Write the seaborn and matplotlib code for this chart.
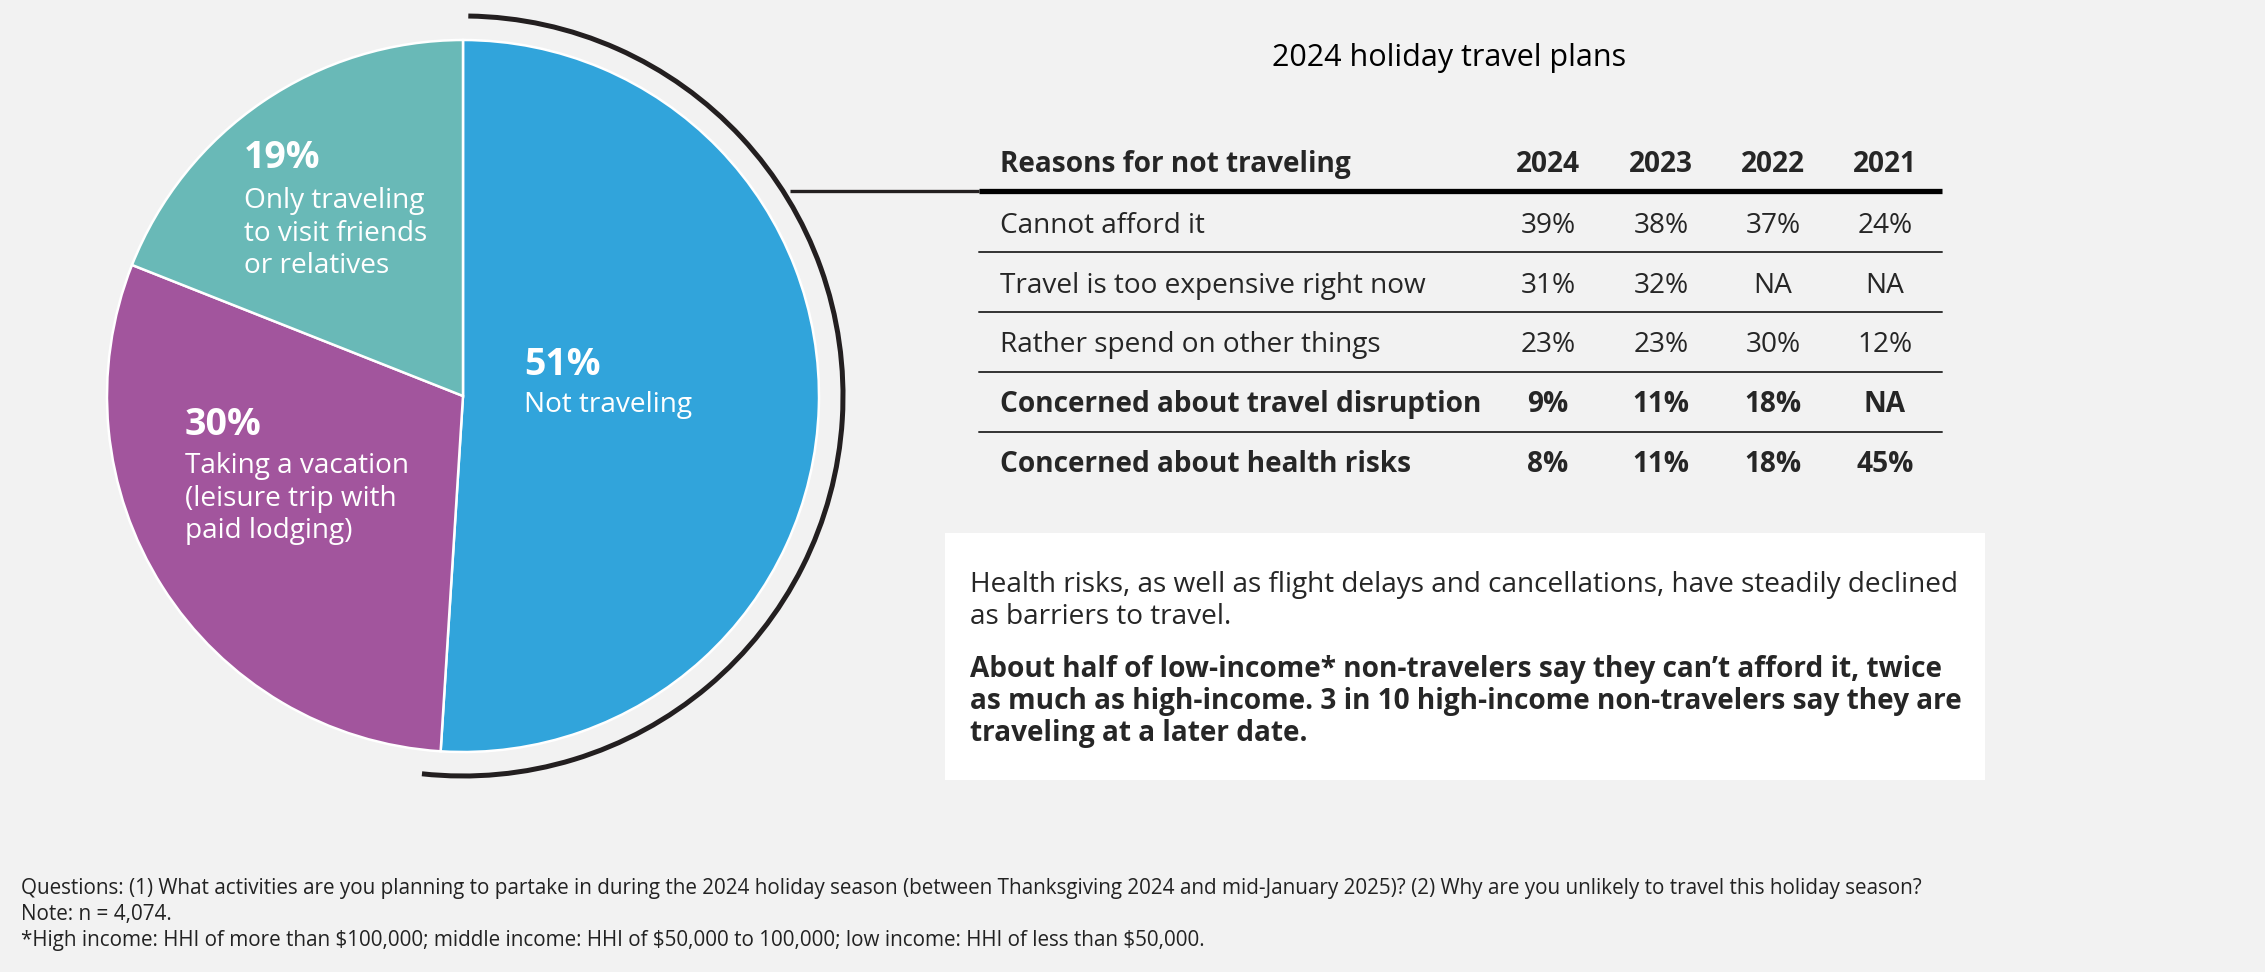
import matplotlib
matplotlib.use("Agg")
import matplotlib.pyplot as plt
from matplotlib.patches import Arc, Rectangle
import seaborn as sns

# ── Data ─────────────────────────────────────────────────────────────────────
plan_pcts   = [51, 30, 19]
plan_labels = [["Not traveling"],
               ["Taking a vacation", "(leisure trip with", "paid lodging)"],
               ["Only traveling", "to visit friends", "or relatives"]]

title = "2024 holiday travel plans"
years = ["2024", "2023", "2022", "2021"]
reasons = ["Cannot afford it",
           "Travel is too expensive right now",
           "Rather spend on other things",
           "Concerned about travel disruption",
           "Concerned about health risks"]
reason_bold = [False, False, False, True, True]
share_2024 = [39, 31, 23, 9, 8]
share_2023 = [38, 32, 23, 11, 11]
share_2022 = [37, None, 30, 18, 18]
share_2021 = [24, None, 12, None, 45]

note_plain = ["Health risks, as well as flight delays and cancellations, have steadily declined",
              "as barriers to travel."]
note_bold = ["About half of low-income* non-travelers say they can\u2019t afford it, twice",
             "as much as high-income. 3 in 10 high-income non-travelers say they are",
             "traveling at a later date."]
footnotes = ["Questions: (1) What activities are you planning to partake in during the 2024 holiday season "
             "(between Thanksgiving 2024 and mid-January 2025)? (2) Why are you unlikely to travel this holiday season?",
             "Note: n = 4,074.",
             "*High income: HHI of more than $100,000; middle income: HHI of $50,000 to 100,000; "
             "low income: HHI of less than $50,000."]

# ── Style ────────────────────────────────────────────────────────────────────
sns.set_theme(style="white")
plt.rcParams["font.family"] = ["Open Sans", "DejaVu Sans"]

BG    = "#F2F2F2"
INK   = "#231F20"
palette = sns.color_palette(["#31A4DB", "#A2559D", "#69B9B7"])
FS = 20.2   # body text size

W, H = 2265, 972
fig = plt.figure(figsize=(W / 100, H / 100), dpi=100, facecolor=BG)
ax = fig.add_axes([0, 0, 1, 1])
ax.set_facecolor(BG)

# ── Pie ──────────────────────────────────────────────────────────────────────
cx, cy, r = 463, 396, 356
ax.pie(plan_pcts, colors=palette, startangle=-90, counterclock=True,
       center=(cx, cy), radius=r, frame=True,
       wedgeprops=dict(edgecolor="white", linewidth=1.8))
ax.add_patch(Arc((cx, cy), 2 * 380, 2 * 380, theta1=-89.2, theta2=96.2,
                 color=INK, lw=3.6))

ax.set_xlim(0, W)
ax.set_ylim(H, 0)
ax.set_aspect("equal")
ax.axis("off")

# pie labels: (x, baseline of pct, first baseline of text)
label_pos = [(524, 375, 412), (185, 435, 473), (244, 168, 208)]
for pct, lines, (lx, py, ty) in zip(plan_pcts, plan_labels, label_pos):
    ax.text(lx, py, f"{pct}%", color="white", fontsize=27, fontweight="bold",
            ha="left", va="baseline")
    for i, ln in enumerate(lines):
        ax.text(lx, ty + i * 32.5, ln, color="white", fontsize=FS,
                ha="left", va="baseline")

# ── Table ────────────────────────────────────────────────────────────────────
ax.text(1449, 66, title, fontsize=22, ha="center", va="baseline", color="black")

x_left, x_right = 979, 1942
col_x = [1548, 1661, 1773, 1885]
ax.plot([790, x_left], [191, 191], color=INK, lw=2.4, solid_capstyle="butt")
ax.plot([x_left, x_right], [191, 191], color="black", lw=3.8, solid_capstyle="butt")

ax.text(1000, 172, "Reasons for not traveling", fontsize=FS, fontweight="bold",
        ha="left", va="baseline")
for x, yr in zip(col_x, years):
    ax.text(x, 172, yr, fontsize=FS, fontweight="bold", ha="center", va="baseline")

row_base = [233, 293, 352, 412, 472]
row_lines = [252, 312, 372, 432]
cols = [share_2024, share_2023, share_2022, share_2021]
for i, (reason, bold, yb) in enumerate(zip(reasons, reason_bold, row_base)):
    fw = "bold" if bold else "normal"
    ax.text(1000, yb, reason, fontsize=FS, fontweight=fw, ha="left", va="baseline")
    for x, col in zip(col_x, cols):
        v = col[i]
        ax.text(x, yb, "NA" if v is None else f"{v}%", fontsize=FS, fontweight=fw,
                ha="center", va="baseline")
for yl in row_lines:
    ax.plot([x_left, x_right], [yl, yl], color="#333333", lw=1.4)

# ── Callout box ─────────────────────────────────────────────────────────────
ax.add_patch(Rectangle((945, 533), 1040, 247, facecolor="white", edgecolor="none"))
for i, ln in enumerate(note_plain):
    ax.text(970, 592 + i * 31.5, ln, fontsize=FS, ha="left", va="baseline")
for i, ln in enumerate(note_bold):
    ax.text(970, 677 + i * 32, ln, fontsize=FS, fontweight="bold",
            ha="left", va="baseline")

# ── Footnotes ────────────────────────────────────────────────────────────────
for yb, ln in zip([894, 920, 946], footnotes):
    ax.text(21, yb, ln, fontsize=14.9, ha="left", va="baseline", color="#222222")

plt.savefig("out.png", dpi=100, facecolor=BG)
plt.close()
